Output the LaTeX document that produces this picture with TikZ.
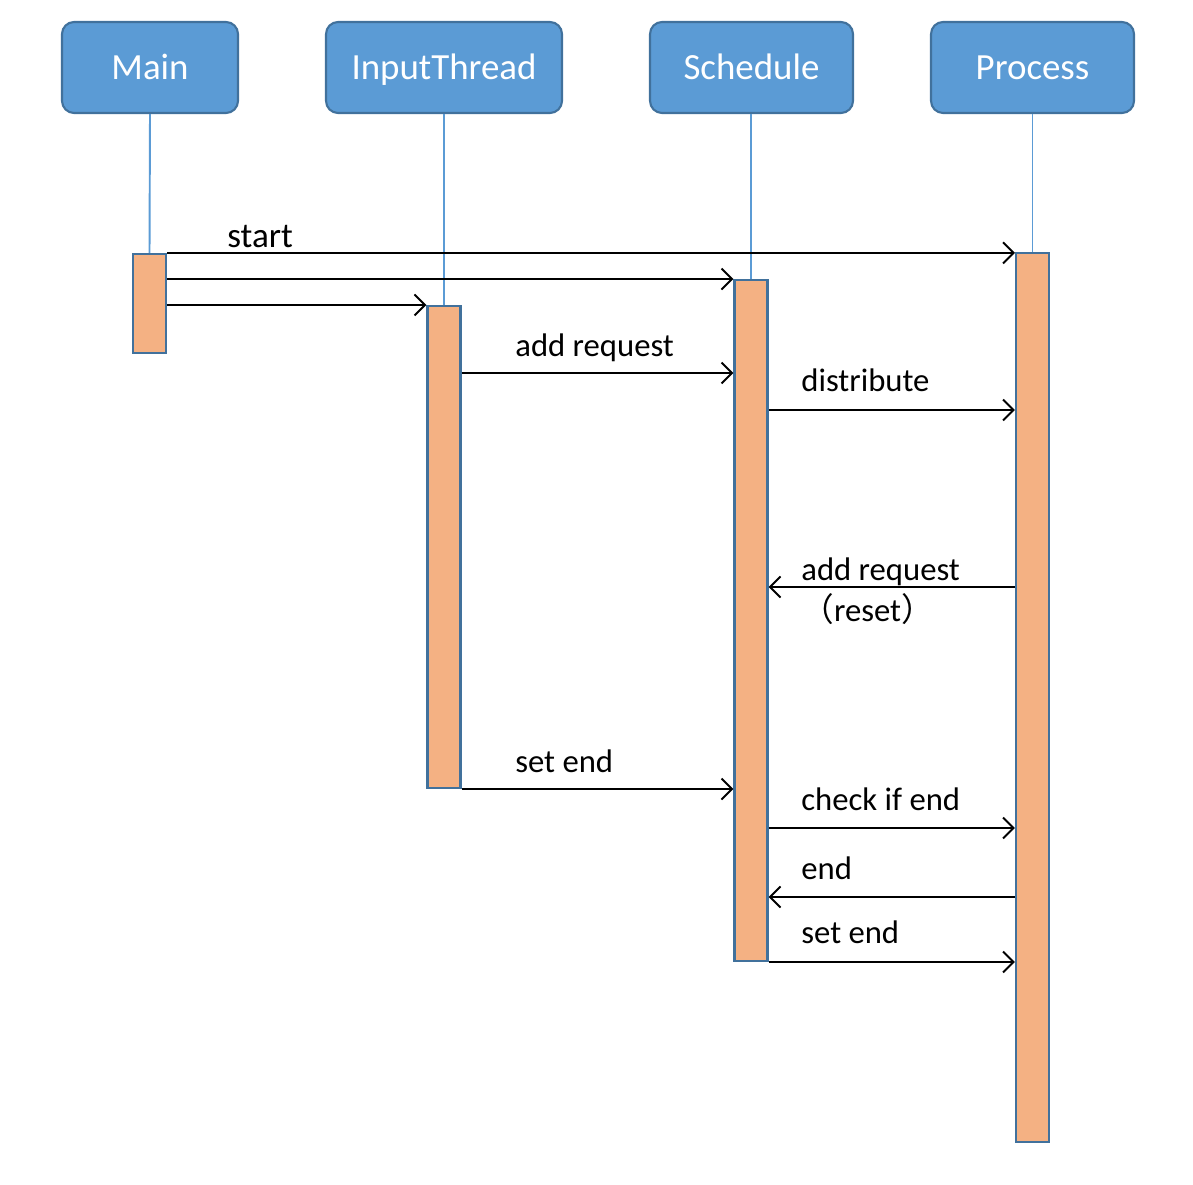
\documentclass[tikz,border=0pt]{standalone}
\usepackage{fontspec}
\setmainfont{Carlito}
\newfontfamily\cjk{Noto Sans CJK SC}
\usetikzlibrary{arrows.meta}

\definecolor{headblue}{HTML}{5B9BD5}
\definecolor{headedge}{HTML}{41719C}
\definecolor{barfill}{HTML}{F4B183}

\tikzset{
    header/.style={draw=headedge, line width=1.2pt, fill=headblue, rounded corners=0.24cm,
        text=white, font=\fontsize{21}{25}\selectfont, minimum height=1.82cm, inner sep=0pt,
        text height=14pt, text depth=0pt},
    lifeline/.style={draw=headblue, line width=1.1pt},
    actbar/.style={draw=headedge, line width=1.2pt, fill=barfill, minimum width=0.66cm, inner sep=0pt},
    msg/.style={draw=black, line width=1.1pt, -{Straight Barb[length=6pt, width=12pt, line width=1.1pt]}},
    msglabel/.style={anchor=base west, inner sep=0pt, font=\fontsize{18.6}{22}\selectfont}
}

\begin{document}
\begin{tikzpicture}[x=0.02cm, y=-0.02cm]
    \useasboundingbox (0,0) rectangle (1193,1185);

    % heads
    \node[header, minimum width=3.52cm] (main) at (150,67.5) {Main};
    \node[header, minimum width=4.72cm] (input) at (444,67.5) {InputThread};
    \node[header, minimum width=4.06cm] (sched) at (751.5,67.5) {Schedule};
    \node[header, minimum width=4.06cm] (proc) at (1032.5,67.5) {Process};

    % activation bars
    \node[actbar, minimum height=1.98cm] (mainbar) at (149.5,303.5) {};
    \node[actbar, minimum height=9.64cm] (inputbar) at (444,547) {};
    \node[actbar, minimum height=13.62cm] (schedbar) at (751,620.5) {};
    \node[actbar, minimum height=17.78cm] (procbar) at (1032.5,697.5) {};

    % lifelines
    \draw[lifeline] (main.south) -- (mainbar.north);
    \draw[lifeline] (input.south) -- (inputbar.north);
    \draw[lifeline] (sched.south -| schedbar.north) -- (schedbar.north);
    \draw[lifeline] (proc.south -| procbar.north) -- (procbar.north);

    % messages
    \draw[msg] (mainbar.north east) -- (procbar.north west |- mainbar.north east);
    \node[anchor=base west, inner sep=0pt, font=\fontsize{20}{24}\selectfont] (lstart) at (227,248) {start};
    \draw[msg] (mainbar.east |- schedbar.north) -- (schedbar.north west);
    \draw[msg] (mainbar.east |- inputbar.north) -- (inputbar.north west);

    \draw[msg] (inputbar.east |- 0,373) -- (schedbar.west |- 0,373);
    \node[msglabel] (ladd) at (515,357) {add request};

    \draw[msg] (schedbar.east |- 0,410) -- (procbar.west |- 0,410);
    \node[msglabel] (ldist) at (801,392) {distribute};

    \draw[msg] (procbar.west |- 0,587) -- (schedbar.east |- 0,587);
    \node[msglabel] (lreadd) at (801,580) {add request};
    \node[msglabel] (lreset) at (801,621) {{\cjk （}reset{\cjk ）}};

    \draw[msg] (inputbar.south east) -- (schedbar.west |- inputbar.south east);
    \node[msglabel] (lsetend) at (515,772) {set end};

    \draw[msg] (schedbar.east |- 0,828) -- (procbar.west |- 0,828);
    \node[msglabel] (lcheck) at (801,810) {check if end};

    \draw[msg] (procbar.west |- 0,897) -- (schedbar.east |- 0,897);
    \node[msglabel] (lend) at (801,879) {end};

    \draw[msg] (schedbar.south east) -- (procbar.west |- schedbar.south east);
    \node[msglabel] (lprocend) at (801,943) {set end};
\end{tikzpicture}
\end{document}
